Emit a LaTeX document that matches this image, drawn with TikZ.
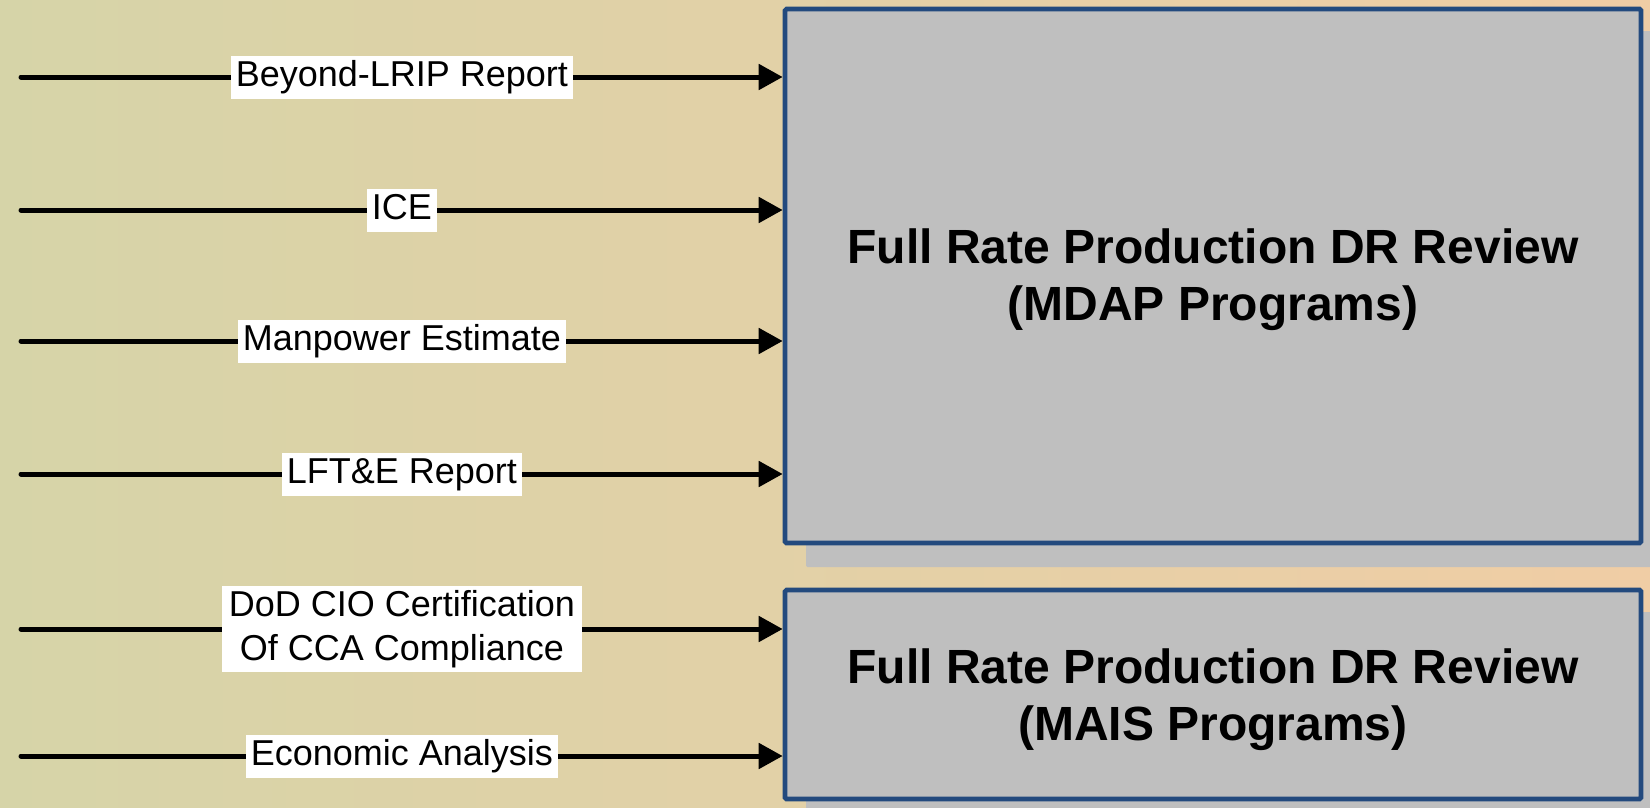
\documentclass[tikz,border=0pt]{standalone}
\usepackage{fontspec}
\setmainfont{Liberation Sans}
\usetikzlibrary{arrows.meta}
\definecolor{bgL}{RGB}{214,212,168}
\definecolor{bgR}{RGB}{240,205,165}
\definecolor{boxfill}{RGB}{191,191,191}
\definecolor{boxline}{RGB}{35,74,126}
\begin{document}
\begin{tikzpicture}[x=1pt,y=-1pt,
  bigbox/.style={draw=boxline, line width=4.6pt, fill=boxfill, rounded corners=1.5pt,
    minimum width=856pt, inner sep=0pt},
  title/.style={align=center, inner sep=0pt, font=\fontsize{48}{57}\selectfont\bfseries},
  shadowbox/.style={fill=boxfill, rounded corners=1.5pt},
  conn/.style={line width=5pt, line cap=round, -{Triangle[length=24pt,width=25pt]}},
  lbl/.style={fill=white, inner xsep=5pt, inner ysep=4pt, text height=27pt, text depth=8pt,
    font=\fontsize{36}{44}\selectfont},
  lbltwo/.style={fill=white, inner xsep=7pt, inner ysep=4pt, align=center,
    font=\fontsize{36}{44}\selectfont}]
\useasboundingbox (0,0) rectangle (1650,807);
\shade[left color=bgL, right color=bgR] (0,0) rectangle (1650,807);
\begin{scope}
\clip (0,0) rectangle (1650,807);
\fill[shadowbox] (806,31) rectangle (1666,567);
\fill[shadowbox] (806,612) rectangle (1666,825);
\end{scope}
\node[bigbox, minimum height=534pt,
  label={[title, yshift=-4pt]center:Full Rate Production DR Review\\(MDAP Programs)}] (box1) at (1213,276) {};
\node[bigbox, minimum height=209pt,
  label={[title, yshift=-5pt]center:Full Rate Production DR Review\\(MAIS Programs)}] (box2) at (1213,694.5) {};
\coordinate (s1) at (21,77);
\coordinate (s2) at (21,210);
\coordinate (s3) at (21,341);
\coordinate (s4) at (21,474);
\coordinate (s5) at (21,629);
\coordinate (s6) at (21,756);
\draw[conn] (s1) -- (s1 -| box1.west) node[midway, lbl] {Beyond-LRIP Report};
\draw[conn] (s2) -- (s2 -| box1.west) node[midway, lbl] {ICE};
\draw[conn] (s3) -- (s3 -| box1.west) node[midway, lbl] {Manpower Estimate};
\draw[conn] (s4) -- (s4 -| box1.west) node[midway, lbl] {LFT\&E Report};
\draw[conn] (s5) -- (s5 -| box2.west) node[midway, lbltwo] {DoD CIO Certification\\Of CCA Compliance};
\draw[conn] (s6) -- (s6 -| box2.west) node[midway, lbl] {Economic Analysis};
\end{tikzpicture}
\end{document}
